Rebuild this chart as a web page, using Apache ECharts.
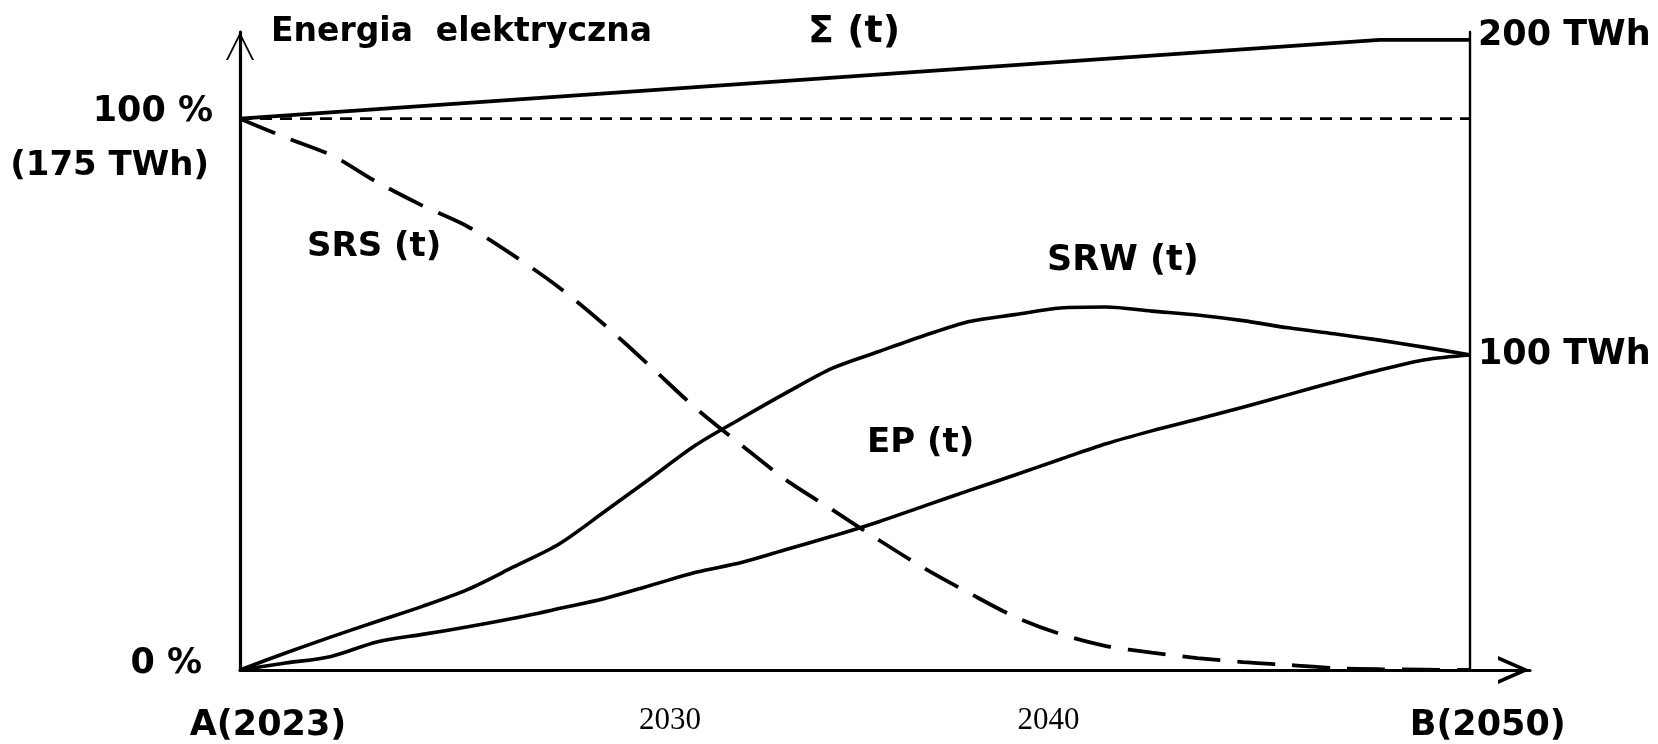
<!DOCTYPE html>
<html><head><meta charset="utf-8">
<script src="https://cdn.jsdelivr.net/npm/echarts@6/dist/echarts.min.js"></script>
<style>html,body{margin:0;padding:0;background:#fff}#c{width:1658px;height:744px}</style>
</head><body><div id="c"></div>
<script>
// ---- data (years on x, TWh on y) ----
const sigmaYears  = [2023, 2048, 2050];
const sigmaValues = [175, 200, 200];

const refYears  = [2023, 2050];
const refValues = [175, 175];

const srsYears  = [2023, 2024, 2025, 2026, 2027, 2028, 2029, 2030, 2031, 2032, 2033, 2034, 2035, 2036, 2037, 2038, 2039, 2040, 2041, 2042, 2043, 2044, 2045, 2046, 2047, 2048, 2049, 2050];
const srsValues = [175, 169.0, 163.4, 154.9, 147.4, 140.7, 131.6, 121.4, 109.5, 96.4, 83.1, 71.4, 60.1, 50.8, 41.4, 32.4, 24.4, 16.9, 11.4, 7.6, 5.5, 3.8, 2.5, 1.6, 0.6, 0.25, 0.1, 0];

const srwYears  = [2023, 2024, 2025, 2026, 2027, 2028, 2029, 2030, 2031, 2032, 2033, 2034, 2035, 2036, 2037, 2038, 2039, 2040, 2041, 2042, 2043, 2044, 2045, 2046, 2047, 2048, 2049, 2050];
const srwValues = [0, 5.4, 10.5, 15.4, 20.2, 25.6, 32.7, 40.0, 50.3, 60.8, 71.4, 79.9, 88.1, 95.8, 101.0, 106.1, 110.6, 112.8, 114.9, 115.2, 113.9, 112.7, 110.9, 108.6, 106.7, 104.7, 102.4, 100];

const epYears  = [2023, 2024, 2025, 2026, 2027, 2028, 2029, 2030, 2031, 2032, 2033, 2034, 2035, 2036, 2037, 2038, 2039, 2040, 2041, 2042, 2043, 2044, 2045, 2046, 2047, 2048, 2049, 2050];
const epValues = [0, 2.2, 4.3, 8.9, 11.3, 13.7, 16.4, 19.5, 22.7, 26.8, 31.0, 34.1, 38.3, 42.5, 47.0, 52.0, 57.0, 61.9, 66.9, 71.8, 75.9, 79.6, 83.4, 87.4, 91.4, 95.2, 98.5, 100];

const xTickValues = [2023, 2030, 2040, 2050];
const xTickLabels = ['A(2023)', '2030', '2040', 'B(2050)'];
const leftTickValues = [0, 175];
const leftTickLabels = [['0 %'], ['100 %', '(175 TWh)']];
const rightTickValues = [100, 200];
const rightTickLabels = ['100 TWh', '200 TWh'];

const axisTitle = 'Energia  elektryczna';
const curveNames = ['Σ (t)', 'SRS (t)', 'SRW (t)', 'EP (t)'];

// ---- helpers ----
const zip = (xs, ys) => xs.map((x, i) => [x, ys[i]]);
const BOLD = {fontFamily: 'DejaVu Sans', fontWeight: 'bold', fontSize: 35, color: '#000'};

const xStyleKeys = ['xa', 'xs1', 'xs2', 'xb'];
const leftStyleKeys = [['lz'], ['la', 'lb']];
const rightStyleKeys = ['r1', 'r2'];

const xArrow = 'path://M14,0 L28,32 L24,32 L14,9.1 L4,32 L0,32 Z';
const yArrow = 'path://M14,0 L28,28 L26,28 L14,4 L2,28 L0,28 Z';

const chart = echarts.init(document.getElementById('c'), null, {renderer: 'canvas'});

const lineBase = {type: 'line', showSymbol: false, symbol: 'none', silent: true, animation: false, z: 3};

const option = {
  animation: false,
  backgroundColor: '#fff',
  grid: {left: 240, right: 128, top: 32, bottom: 74, containLabel: false, outerBoundsMode: 'none'},
  xAxis: {
    type: 'value', min: 2023, max: 2051.3,
    axisLine: {show: true, lineStyle: {color: '#000', width: 3.2},
      symbol: ['none', xArrow], symbolSize: [28, 32], symbolOffset: [0, -16]},
    axisTick: {show: false}, splitLine: {show: false},
    axisLabel: {
      customValues: xTickValues, margin: 35, color: '#000',
      formatter: function (v) {
        const i = xTickValues.indexOf(v);
        return i < 0 ? '' : '{' + xStyleKeys[i] + '|' + xTickLabels[i] + '}';
      },
      rich: {
        xa: Object.assign({}, BOLD, {padding: [3, 0, 0, 56]}),
        xs1: {fontFamily: 'Liberation Serif', fontSize: 31, color: '#000', padding: [0, 0, 0, 222]},
        xs2: {fontFamily: 'Liberation Serif', fontSize: 31, color: '#000', padding: [0, 0, 0, 67]},
        xb: Object.assign({}, BOLD, {padding: [3, 0, 0, 34]})
      }
    }
  },
  yAxis: [{
    type: 'value', min: 0, max: 202.5, position: 'left',
    axisLine: {show: true, lineStyle: {color: '#000', width: 3.2},
      symbol: ['none', yArrow], symbolSize: [28, 28], symbolOffset: [0, -14]},
    axisTick: {show: false}, splitLine: {show: false},
    axisLabel: {
      customValues: leftTickValues, margin: 27, color: '#000',
      formatter: function (v) {
        const i = leftTickValues.indexOf(v);
        if (i < 0) return '';
        return leftTickLabels[i].map((t, k) => '{' + leftStyleKeys[i][k] + '|' + t + '}').join('\n');
      },
      rich: {
        lz: Object.assign({}, BOLD, {padding: [0, 11, 12, 0]}),
        la: Object.assign({}, BOLD, {lineHeight: 96}),
        lb: Object.assign({}, BOLD, {fontSize: 34, lineHeight: 14, padding: [0, 4, 0, 0]})
      }
    }
  }, {
    type: 'value', min: 0, max: 202.5, position: 'right', offset: -60,
    axisLine: {show: true, onZero: false, lineStyle: {color: '#000', width: 2.4}},
    axisTick: {show: false}, splitLine: {show: false},
    axisLabel: {
      customValues: rightTickValues, margin: 8, color: '#000',
      formatter: function (v) {
        const i = rightTickValues.indexOf(v);
        return i < 0 ? '' : '{' + rightStyleKeys[i] + '|' + rightTickLabels[i] + '}';
      },
      rich: {
        r1: Object.assign({}, BOLD),
        r2: Object.assign({}, BOLD, {padding: [0, 0, 8, 0]})
      }
    }
  }],
  series: [
    Object.assign({}, lineBase, {name: curveNames[0], data: zip(sigmaYears, sigmaValues), smooth: false,
      lineStyle: {color: '#000', width: 3.8}}),
    Object.assign({}, lineBase, {name: 'ref', data: zip(refYears, refValues), smooth: false,
      lineStyle: {color: '#000', width: 2.6, type: [12, 8]}}),
    Object.assign({}, lineBase, {name: curveNames[1], data: zip(srsYears, srsValues), smooth: 0.3,
      lineStyle: {color: '#000', width: 3.8, type: [38, 17]}}),
    Object.assign({}, lineBase, {name: curveNames[2], data: zip(srwYears, srwValues), smooth: 0.3,
      lineStyle: {color: '#000', width: 3.6}}),
    Object.assign({}, lineBase, {name: curveNames[3], data: zip(epYears, epValues), smooth: 0.3,
      lineStyle: {color: '#000', width: 3.6}})
  ],
  graphic: [
    {type: 'text', x: 271, y: 32, style: {text: axisTitle, fontFamily: 'DejaVu Sans', fontWeight: 'bold', fontSize: 33, fill: '#000', align: 'left', verticalAlign: 'middle'}},
    {type: 'text', x: 808, y: 32, style: {text: curveNames[0], fontFamily: 'DejaVu Sans', fontWeight: 'bold', fontSize: 38, fill: '#000', align: 'left', verticalAlign: 'middle'}},
    {type: 'text', x: 307, y: 247, style: {text: curveNames[1], fontFamily: 'DejaVu Sans', fontWeight: 'bold', fontSize: 34, fill: '#000', align: 'left', verticalAlign: 'middle'}},
    {type: 'text', x: 1047, y: 261, style: {text: curveNames[2], fontFamily: 'DejaVu Sans', fontWeight: 'bold', fontSize: 35, fill: '#000', align: 'left', verticalAlign: 'middle'}},
    {type: 'text', x: 867, y: 443, style: {text: curveNames[3], fontFamily: 'DejaVu Sans', fontWeight: 'bold', fontSize: 34, fill: '#000', align: 'left', verticalAlign: 'middle'}}
  ]
};
chart.setOption(option);
</script>
</body></html>
